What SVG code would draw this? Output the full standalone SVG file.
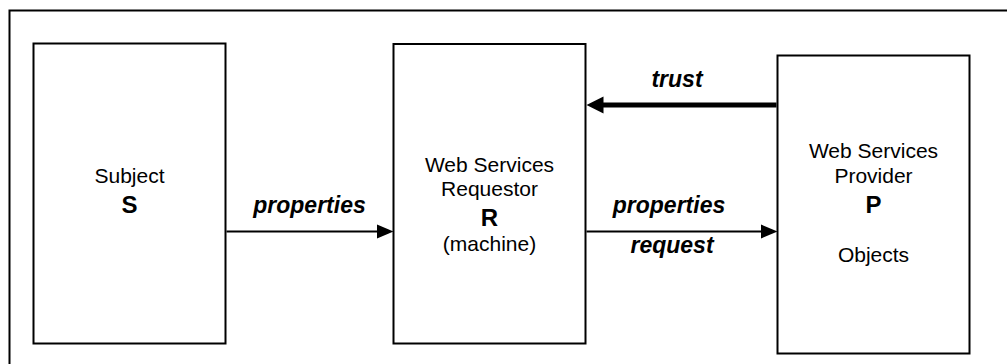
<svg xmlns="http://www.w3.org/2000/svg" width="1007" height="364" viewBox="0 0 1007 364">
  <style>
    .box { fill: #ffffff; stroke: #000000; stroke-width: 2; }
    .frame { fill: none; stroke: #000000; stroke-width: 2; }
    .txt { font-family: "Liberation Sans", Arial, sans-serif; font-size: 21px; fill: #000000; text-anchor: middle; }
    .big { font-family: "Liberation Sans", Arial, sans-serif; font-size: 24px; font-weight: bold; fill: #000000; text-anchor: middle; }
    .lbl { font-family: "Liberation Sans", Arial, sans-serif; font-size: 23px; font-weight: bold; font-style: italic; fill: #000000; text-anchor: middle; }
    .conn { stroke: #000000; stroke-width: 2; fill: none; }
    .thick { stroke: #000000; stroke-width: 5; fill: none; }
  </style>

  <rect width="1007" height="364" fill="#ffffff"/>
  <!-- outer frame -->
  <rect class="frame" x="9.5" y="10.5" width="1010" height="370"/>

  <g id="node-subject">
    <rect class="box" x="33.5" y="43.5" width="192" height="300"/>
    <text class="txt" x="129.5" y="183">Subject</text>
    <text class="big" x="129.5" y="213">S</text>
  </g>

  <g id="node-requestor">
    <rect class="box" x="393.5" y="44" width="192" height="299.5"/>
    <text class="txt" x="489.5" y="172">Web Services</text>
    <text class="txt" x="489.5" y="196">Requestor</text>
    <text class="big" x="489.5" y="226">R</text>
    <text class="txt" x="489.5" y="251">(machine)</text>
  </g>

  <g id="node-provider">
    <rect class="box" x="777.5" y="55.5" width="192" height="298"/>
    <text class="txt" x="873.5" y="158">Web Services</text>
    <text class="txt" x="873.5" y="183">Provider</text>
    <text class="big" x="873.5" y="213">P</text>
    <text class="txt" x="873.5" y="262">Objects</text>
  </g>

  <g id="connectors">
    <!-- subject to requestor -->
    <line class="conn" x1="226.5" y1="231.5" x2="379" y2="231.5"/>
    <polygon points="377,224.5 393.5,231.5 377,238.5" fill="#000000"/>
    <text class="lbl" x="309.5" y="213">properties</text>

    <!-- requestor to provider -->
    <line class="conn" x1="586.5" y1="231.5" x2="763" y2="231.5"/>
    <polygon points="761,224.5 777.5,231.5 761,238.5" fill="#000000"/>
    <text class="lbl" x="669" y="213">properties</text>
    <text class="lbl" x="672" y="253">request</text>

    <!-- trust from provider back to requestor -->
    <line class="thick" x1="776.5" y1="105" x2="600" y2="105"/>
    <polygon points="603.5,96.5 586.5,105 603.5,113.5" fill="#000000"/>
    <text class="lbl" x="677" y="87">trust</text>
  </g>
</svg>
